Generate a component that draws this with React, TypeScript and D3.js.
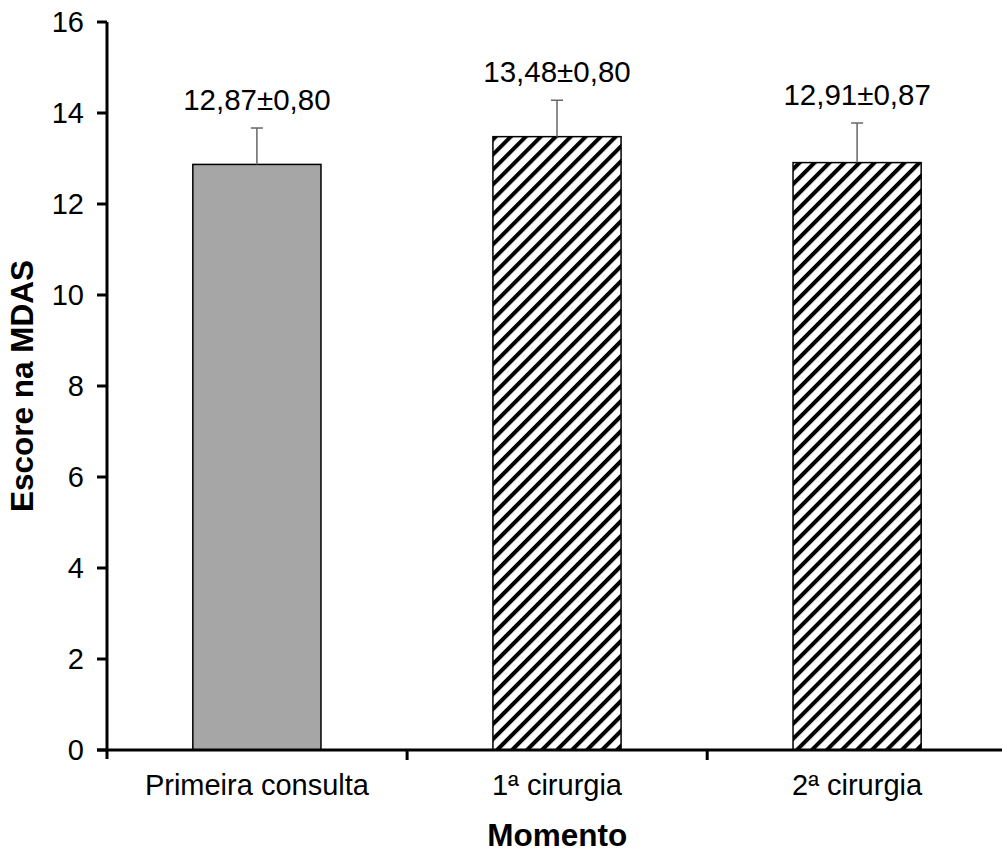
import React from 'react';
import * as d3 from 'd3';

const categories = ['Primeira consulta', '1ª cirurgia', '2ª cirurgia'];
const means = [12.87, 13.48, 12.91];
const errors = [0.8, 0.8, 0.87];
const labels = ['12,87±0,80', '13,48±0,80', '12,91±0,87'];
const yTicks = [0, 2, 4, 6, 8, 10, 12, 14, 16];

const width = 1002;
const height = 861;
const margin = { top: 22, right: -5, bottom: 111, left: 107 };

export default function App() {
  const x = d3.scaleBand()
    .domain(categories)
    .range([margin.left, width - margin.right])
    .paddingInner(0.573)
    .paddingOuter(0.286);

  const y = d3.scaleLinear()
    .domain([0, 16])
    .range([height - margin.bottom, margin.top]);

  const font = 'Arial, "Liberation Sans", sans-serif';
  const y0 = y(0);
  const step = x.step();
  const outerStart = margin.left;

  return (
    <svg width={width} height={height} style={{ position: 'absolute', left: 0, top: 0, background: '#fff' }}>
      <defs>
        <pattern id="hatch" patternUnits="userSpaceOnUse" width={10.6} height={10.6} patternTransform="rotate(45)">
          <rect x={0} y={0} width={4} height={10.6} fill="#000" />
        </pattern>
      </defs>

      {/* bars */}
      {categories.map((c, i) => (
        <rect key={c} x={x(c)} y={y(means[i])} width={x.bandwidth()} height={y0 - y(means[i])}
          fill={i === 0 ? '#a6a6a6' : 'url(#hatch)'} stroke="#000" strokeWidth={1.5} />
      ))}

      {/* error bars */}
      {categories.map((c, i) => {
        const cx = (x(c) as number) + x.bandwidth() / 2;
        const top = y(means[i] + errors[i]);
        return (
          <g key={c} stroke="#666" strokeWidth={1.5}>
            <line x1={cx} x2={cx} y1={y(means[i])} y2={top} />
            <line x1={cx - 6} x2={cx + 6} y1={top} y2={top} />
          </g>
        );
      })}

      {/* value labels */}
      {categories.map((c, i) => (
        <text key={c} x={(x(c) as number) + x.bandwidth() / 2} y={y(means[i] + errors[i]) - 18}
          textAnchor="middle" fontFamily={font} fontSize={29.5} fill="#000">{labels[i]}</text>
      ))}

      {/* y axis */}
      <line x1={margin.left} x2={margin.left} y1={y(16)} y2={y0 + 9} stroke="#000" strokeWidth={3} />
      {yTicks.map(t => (
        <g key={t}>
          <line x1={margin.left - 10} x2={margin.left} y1={y(t)} y2={y(t)} stroke="#000" strokeWidth={3} />
          <text x={84} y={y(t)} dy="0.36em" textAnchor="end" fontFamily={font} fontSize={29} fill="#000">{t}</text>
        </g>
      ))}

      {/* x axis */}
      <line x1={margin.left - 10} x2={width} y1={y0} y2={y0} stroke="#000" strokeWidth={3} />
      {[1, 2].map(k => (
        <line key={k} x1={outerStart + step * k} x2={outerStart + step * k} y1={y0} y2={y0 + 10} stroke="#000" strokeWidth={3} />
      ))}
      {categories.map(c => (
        <text key={c} x={(x(c) as number) + x.bandwidth() / 2} y={795} textAnchor="middle"
          fontFamily={font} fontSize={29} fill="#000">{c}</text>
      ))}

      {/* axis titles */}
      <text x={(outerStart + step * 1.5)} y={846} textAnchor="middle" fontFamily={font} fontSize={31.5} fontWeight="bold">Momento</text>
      <text transform={`translate(33,${(y(16) + y0) / 2}) rotate(-90)`} textAnchor="middle" fontFamily={font} fontSize={31.5} fontWeight="bold">Escore na MDAS</text>
    </svg>
  );
}
